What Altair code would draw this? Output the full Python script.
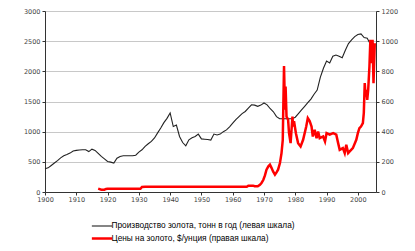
import altair as alt
import pandas as pd

PROD_LABEL = "Производство золота, тонн в год (левая шкала)"
PRICE_LABEL = "Цены на золото, $/унция (правая шкала)"

prod_years = list(range(1900, 2006))
prod_values = [385, 400, 440, 480, 520, 565, 600, 620, 645, 680,
               690, 695, 700, 700, 670, 710, 690, 640, 590, 550,
               505, 495, 480, 560, 590, 600, 600, 600, 600, 610,
               660, 700, 755, 800, 840, 895, 980, 1060, 1150, 1220,
               1310, 1085, 1110, 920, 820, 765, 865, 900, 920, 960,
               880, 875, 870, 860, 960, 945, 960, 1000, 1030, 1080,
               1140, 1200, 1250, 1300, 1335, 1390, 1445, 1440, 1420, 1440,
               1475, 1445, 1380, 1330, 1250, 1213, 1213, 1213, 1213, 1213,
               1240, 1300, 1360, 1420, 1480, 1540, 1620, 1690, 1900, 2050,
               2170, 2140, 2250, 2270, 2250, 2225, 2350, 2460, 2520, 2575,
               2610, 2620, 2560, 2550, 2450, 2380]

price_years = [1917.0, 1918.0, 1919.0, 1919.5, 1920.0, 1930.5, 1931.0, 1932.0,
               1964.5, 1965.0, 1966.5, 1967.0, 1968.0, 1968.7, 1969.2, 1969.8,
               1970.3, 1970.8, 1971.4, 1971.9, 1972.4, 1972.9, 1973.5, 1974.0,
               1974.5, 1975.1, 1975.6, 1976.0, 1976.2, 1976.4, 1976.7, 1976.9,
               1977.2, 1977.7, 1978.0, 1978.5, 1978.8, 1979.1, 1979.3, 1979.6,
               1980.2, 1980.9, 1981.7, 1982.5, 1983.5, 1984.0, 1984.6, 1985.2,
               1985.6, 1986.2, 1986.8, 1987.3, 1987.8, 1988.9, 1989.5, 1990.0,
               1991.0, 1992.1, 1993.1, 1993.7, 1994.2, 1995.2, 1995.8, 1996.3,
               1996.9, 1997.4, 1998.4, 1999.5, 2000.0, 2000.5, 2001.0, 2001.6,
               2001.9, 2002.2, 2002.5, 2002.7, 2003.0, 2003.3, 2003.7, 2004.0,
               2004.4, 2004.7, 2005.0, 2005.4]
price_values = [22, 15, 15, 20, 21, 21, 33, 35,
                35, 42, 42, 38, 38, 48, 60, 81,
                110, 148, 170, 181, 160, 136, 115, 130,
                148, 192, 258, 346, 600, 835, 545, 700,
                500, 480, 390, 324, 412, 500, 434, 470,
                390, 324, 302, 346, 434, 490, 470, 434,
                368, 412, 357, 400, 357, 368, 335, 390,
                380, 390, 380, 324, 280, 291, 258, 313,
                258, 269, 291, 346, 390, 423, 434, 456,
                523, 722, 633, 677, 611, 677, 832, 1009,
                854, 1009, 722, 987]

df_prod = pd.DataFrame({"year": prod_years, "value": prod_values, "series": PROD_LABEL})
df_price = pd.DataFrame({"year": price_years, "value": price_values, "series": PRICE_LABEL})

domain = [PROD_LABEL, PRICE_LABEL]
color_scale = alt.Scale(domain=domain, range=["#222222", "#ff0000"])
width_scale = alt.Scale(domain=domain, range=[1.1, 2.5])

legend = alt.Legend(
    title=None, orient="none", legendX=48.5, legendY=207, direction="vertical",
    symbolType="M-1.4,0H1.4", symbolSize=210, labelFontSize=8.3, labelFont="Liberation Sans",
    labelColor="#000000", rowPadding=0, labelOffset=1, labelLimit=400,
)

axis_common = dict(title=None, tickSize=3, labelFontSize=6.5, labelColor="#444",
                   labelFont="DejaVu Sans", domainColor="#333", tickColor="#333",
                   labelFlush=False, format="d")

x_enc = alt.X("year:Q", scale=alt.Scale(domain=[1900, 2005.8], nice=False, zero=False),
              axis=alt.Axis(values=list(range(1900, 2001, 10)), grid=False,
                            labelPadding=1, **axis_common))

black = alt.Chart(df_prod).mark_line().encode(
    x=x_enc,
    y=alt.Y("value:Q", scale=alt.Scale(domain=[0, 3000], nice=False),
            axis=alt.Axis(orient="left", values=[0, 500, 1000, 1500, 2000, 2500, 3000],
                          grid=True, gridColor="#c8c8c8", labelPadding=2, **axis_common)),
    color=alt.Color("series:N", scale=color_scale, legend=legend),
    strokeWidth=alt.StrokeWidth("series:N", scale=width_scale, legend=legend),
)

red = alt.Chart(df_price).mark_line().encode(
    x=x_enc,
    y=alt.Y("value:Q", scale=alt.Scale(domain=[0, 1200], nice=False),
            axis=alt.Axis(orient="right", values=[0, 200, 400, 600, 800, 1000, 1200],
                          grid=False, labelPadding=2, **axis_common)),
    color=alt.Color("series:N", scale=color_scale, legend=legend),
    strokeWidth=alt.StrokeWidth("series:N", scale=width_scale, legend=legend),
)

chart = alt.layer(black, red).resolve_scale(y="independent").properties(
    width=331, height=181,
    autosize=alt.AutoSizeParams(type="none"),
    padding={"left": 45, "top": 11, "right": 39, "bottom": 59},
    background="white",
).configure_view(stroke=None)

chart.save("out.html", embed_options={"renderer": "svg", "actions": False})
